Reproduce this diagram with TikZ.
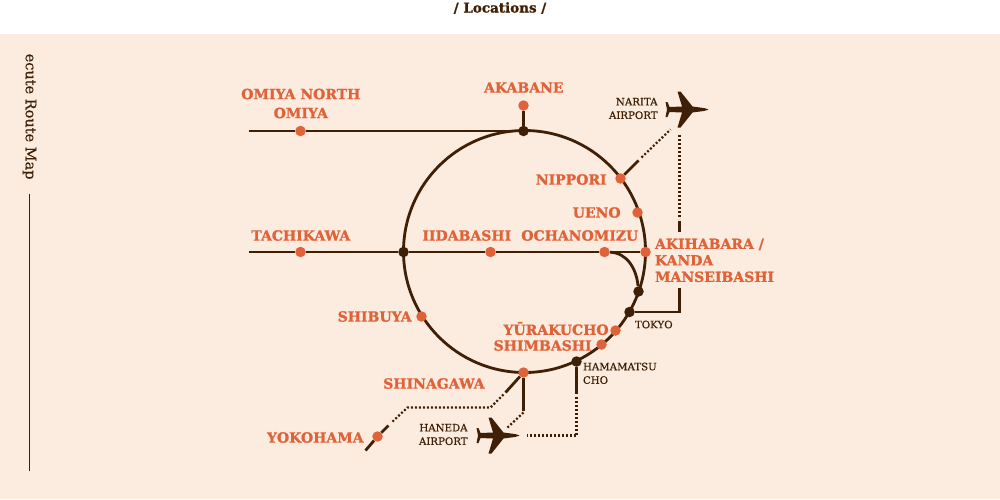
\documentclass[tikz,border=0pt]{standalone}
\usepackage{fontspec}
\setmainfont{DejaVu Serif}
\newfontfamily\slabfont[FakeBold=1.2]{DejaVu Serif Bold}
\newfontfamily\smallfont[FakeBold=0.4]{DejaVu Serif}
\definecolor{routebrown}{HTML}{3F1F06}
\definecolor{stationorange}{HTML}{E06238}
\definecolor{paper}{HTML}{FBECDF}
\tikzset{
  station/.style={circle,fill=stationorange,inner sep=0pt,minimum size=10.5pt},
  junction/.style={circle,fill=routebrown,inner sep=0pt,minimum size=10.5pt},
  track/.style={draw=routebrown,line width=2.8pt},
  dots/.style={draw=routebrown,line width=2.2pt,dash pattern=on 2pt off 2pt},
  biglabel/.style={text=stationorange,inner sep=0pt,align=left,xshift=-0.7pt,font=\slabfont\fontsize{14}{16.5}\selectfont},
  smalllabel/.style={text=routebrown,inner sep=0pt,align=left,xshift=-0.7pt,font=\smallfont\fontsize{10.2}{13.5}\selectfont},
  airplane/.pic={
    \path[fill=routebrown] (28,0) -- (24,-1.4) -- (12,-3) -- (0,-18) -- (-3,-18) -- (1.5,-3) -- (-11,-2.5)
      -- (-13,-7.5) -- (-15,-7.5) -- (-13.5,0) -- (-15,7.5) -- (-13,7.5) -- (-11,2.5) -- (1.5,3)
      -- (-3,18) -- (0,18) -- (12,3) -- (24,1.4) -- cycle;
  }
}
\begin{document}
\begin{tikzpicture}[x=1pt,y=-1pt]
\useasboundingbox (-0.5,-0.5) rectangle (999.5,498.5);
\fill[paper] (-0.5,33.5) rectangle (999.5,498.5);

\node[text=routebrown,inner sep=0pt,font=\slabfont\fontsize{13.5}{15}\selectfont] (title) at (499.5,7.5) {/ Locations /};
\node[text=routebrown,inner sep=0pt,rotate=-90,anchor=west,font=\smallfont\fontsize{14.5}{15}\selectfont] (sidetitle) at (29,53) {ecute Route Map};
\coordinate (sidetop) at (29,193);
\coordinate (sidebottom) at (29,470);
\path[draw=routebrown,line width=0.8pt] (sidetop) -- (sidebottom);

\node[draw=routebrown,line width=2.8pt,circle,inner sep=0pt,minimum size=242pt] (ring) at (524,251) {};

\node[station] (omiya) at (300,130.5) {};
\node[station] (akabane) at (523,105) {};
\node[station] (nippori) at (620,178) {};
\node[station] (ueno) at (637,212) {};
\node[station] (tachikawa) at (300,251.5) {};
\node[station] (iidabashi) at (490,251.5) {};
\node[station] (ochanomizu) at (604,251.5) {};
\node[station] (akihabara) at (645,251.5) {};
\node[station] (shibuya) at (421,316) {};
\node[station] (yurakucho) at (615,330) {};
\node[station] (shimbashi) at (601,344) {};
\node[station] (shinagawa) at (523,372) {};
\node[station] (yokohama) at (377,436) {};

\node[junction] (jakabane) at (523,130.5) {};
\node[junction] (jleft) at (403,251.5) {};
\node[junction] (jcurve) at (638,291) {};
\node[junction] (tokyo) at (629,311.5) {};
\node[junction] (hamamatsu) at (576,361) {};

\pic at (680,109) {airplane};
\pic at (491,435) {airplane};

\node[biglabel,align=center] (lomiya) at (301,103) {OMIYA NORTH\\[2.5pt]OMIYA};
\node[biglabel] (lakabane) at (524,87) {AKABANE};
\node[biglabel,anchor=east] (lnippori) at (607,179) {NIPPORI};
\node[biglabel,anchor=east] (lueno) at (621,212) {UENO};
\node[biglabel] (ltachikawa) at (301,235) {TACHIKAWA};
\node[biglabel] (liidabashi) at (467,235) {IIDABASHI};
\node[biglabel] (lochanomizu) at (580,235) {OCHANOMIZU};
\node[biglabel,anchor=north west] (lakihabara) at (655,238) {AKIHABARA /\\KANDA\\MANSEIBASHI};
\node[biglabel,anchor=east] (lshibuya) at (412,316) {SHIBUYA};
\node[biglabel,anchor=east] (lyurakucho) at (609,328) {YŪRAKUCHO};
\node[biglabel,anchor=east] (lshimbashi) at (592,345) {SHIMBASHI};
\node[biglabel,anchor=east] (lshinagawa) at (485,383) {SHINAGAWA};
\node[biglabel,anchor=east] (lyokohama) at (364,437) {YOKOHAMA};

\node[smalllabel,align=right,anchor=east] (lnarita) at (658,108) {NARITA\\AIRPORT};
\node[smalllabel,align=right,anchor=east] (lhaneda) at (468,434) {HANEDA\\AIRPORT};
\node[smalllabel,anchor=west] (ltokyo) at (635,324) {TOKYO};
\node[smalllabel,anchor=north west] (lhamamatsu) at (583,362) {HAMAMATSU\\CHO};

\coordinate (omiyaend) at (248,130.5);
\coordinate (tachikawaend) at (248,251.5);
\coordinate (naritaa) at (638,160);
\coordinate (naritab) at (641,157);
\coordinate (naritac) at (670,129);
\coordinate (akiba) at (679,134);
\coordinate (akibb) at (679,218);
\coordinate (akibc) at (679,220);
\coordinate (akibd) at (679,231);
\coordinate (tokyoa) at (679,287);
\coordinate (tokyob) at (679,311.5);
\coordinate (hamaa) at (576,393);
\coordinate (hamab) at (576,396);
\coordinate (hamac) at (576,435);
\coordinate (hamad) at (526,435);
\coordinate (shinaa) at (523,410);
\coordinate (shinab) at (523,412);
\coordinate (shinac) at (507,427);
\coordinate (yokoa) at (505,392);
\coordinate (yokob) at (503,394);
\coordinate (yokoc) at (490,407);
\coordinate (yokod) at (407,407);
\coordinate (yokoe) at (391,422);
\coordinate (yokof) at (388,425);
\coordinate (yokog) at (365,450);

\path[track] (omiyaend) -- (omiya);
\path[track] (omiya) -- (jakabane);
\path[track] (jakabane) -- (akabane);
\path[track] (tachikawaend) -- (tachikawa);
\path[track] (tachikawa) -- (jleft);
\path[track] (jleft) -- (iidabashi);
\path[track] (iidabashi) -- (ochanomizu);
\path[track] (ochanomizu) -- (akihabara);
\path[track] (ochanomizu) to[out=-2,in=95] (jcurve);
\path[track] (nippori) -- (naritaa);
\path[dots] (naritab) -- (naritac);
\path[dots] (akiba) -- (akibb);
\path[track] (akibc) -- (akibd);
\path[track] (tokyo) -- (tokyob) -- (tokyoa);
\path[track] (hamamatsu) -- (hamaa);
\path[dots] (hamab) -- (hamac) -- (hamad);
\path[track] (shinagawa) -- (shinaa);
\path[dots] (shinab) -- (shinac);
\path[track] (shinagawa) -- (yokoa);
\path[dots] (yokob) -- (yokoc) -- (yokod) -- (yokoe);
\path[track] (yokof) -- (yokohama);
\path[track] (yokohama) -- (yokog);
\end{tikzpicture}
\end{document}
